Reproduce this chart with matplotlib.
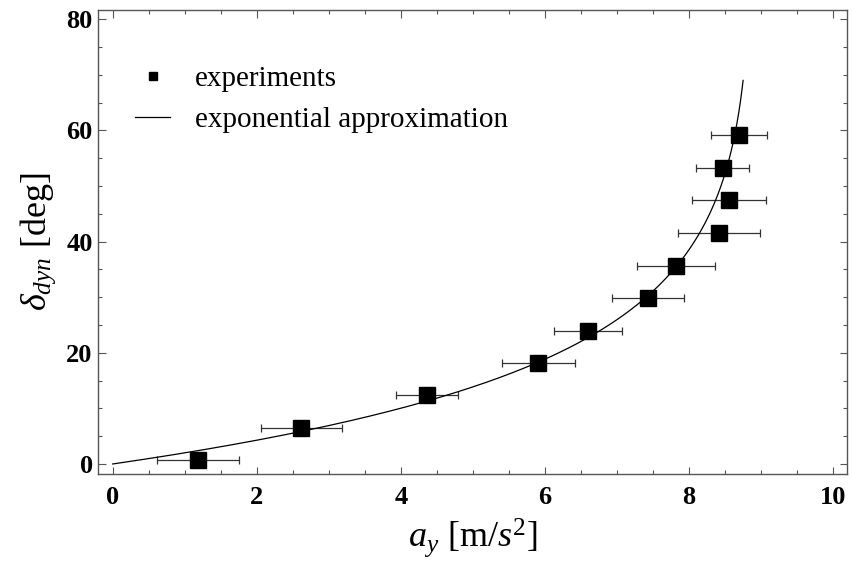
import numpy as np
import matplotlib
matplotlib.use("Agg")
import matplotlib.pyplot as plt
from matplotlib.ticker import MultipleLocator

plt.rcParams['font.family'] = ['Liberation Serif', 'DejaVu Serif']
plt.rcParams['mathtext.fontset'] = 'custom'
plt.rcParams['mathtext.rm'] = 'Liberation Serif'
plt.rcParams['mathtext.it'] = 'Liberation Serif:italic'
plt.rcParams['mathtext.bf'] = 'Liberation Serif:bold'

# measured points: lateral acceleration vs dynamic steering angle
ay = [1.18, 2.62, 4.37, 5.91, 6.60, 7.44, 7.82, 8.42, 8.56, 8.47, 8.70]
ay_err = [0.57, 0.56, 0.43, 0.51, 0.47, 0.50, 0.54, 0.57, 0.51, 0.37, 0.39]
delta = [0.7, 6.5, 12.4, 18.2, 24.0, 29.9, 35.7, 41.6, 47.4, 53.3, 59.1]

# exponential saturation model  a_y = A (1 - exp(-delta / D))
A_MAX = 8.9
D_0 = 16.8
DELTA_END = 69.0

d = np.linspace(0, DELTA_END, 400)
ay_fit = A_MAX * (1 - np.exp(-d / D_0))

fig = plt.figure(figsize=(8.54, 5.63), dpi=100)
ax = fig.add_axes([0.1151, 0.1581, 0.9921 - 0.1151, 0.9831 - 0.1581])

ax.errorbar(ay, delta, xerr=ay_err, fmt='none', ecolor='#333333',
            elinewidth=0.9, capsize=3, capthick=0.9, zorder=2)
pts, = ax.plot(ay, delta, 's', color='black', ms=11, zorder=3, label='experiments')
fit, = ax.plot(ay_fit, d, '-', color='black', lw=0.9, zorder=4,
               label='exponential approximation')

ax.set_xlim(-0.2, 10.2)
ax.set_ylim(-1.8, 81.75)
ax.xaxis.set_major_locator(MultipleLocator(2))
ax.xaxis.set_minor_locator(MultipleLocator(0.5))
ax.yaxis.set_major_locator(MultipleLocator(20))
ax.yaxis.set_minor_locator(MultipleLocator(5))

for s in ax.spines.values():
    s.set_color('#555555')
    s.set_linewidth(1.0)
ax.tick_params(which='both', direction='in', top=True, right=True,
               color='#555555', width=0.8)
ax.tick_params(which='major', length=5.4)
ax.tick_params(which='minor', length=3.1)
ax.tick_params(axis='x', which='major', pad=9, labelsize=19)
ax.tick_params(axis='y', which='major', pad=4, labelsize=19)
for lab in ax.get_xticklabels() + ax.get_yticklabels():
    lab.set_fontweight('bold')

ax.set_xlabel(r'$a_y$ [m/$s^{\mathrm{2}}$]', fontsize=26, labelpad=5)
ax.set_ylabel(r'$\delta_{dyn}$ [deg]', fontsize=26, labelpad=6)

ax.legend(handles=[pts, fit], loc='upper left',
          bbox_to_anchor=(135 / 854, 1 - 66 / 563), bbox_transform=fig.transFigure,
          frameon=False, fontsize=21, markerscale=0.55, handlelength=1.2,
          handletextpad=0.85, labelspacing=0.5, borderpad=0, borderaxespad=0)

fig.savefig('out.png', dpi=100)
